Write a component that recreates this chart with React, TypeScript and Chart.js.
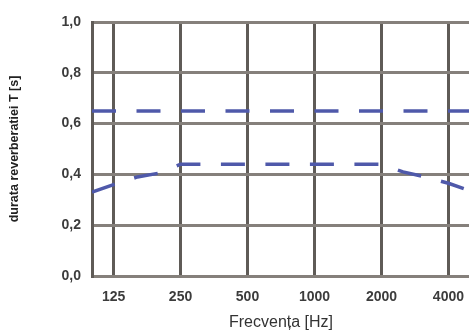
import React, { useEffect, useRef } from 'react';
import { Chart, registerables } from 'chart.js';

Chart.register(...registerables);

// Frequency axis (Hz)
const xTickValues = [125, 250, 500, 1000, 2000, 4000];
const xMin = 100;
const xMax = 5000;

// Upper limit (dashed)
const upperFreqs = [100, 5000];
const upperValues = [0.65, 0.65];

// Lower limit (dashed)
const lowerFreqs = [100, 125, 160, 200, 250, 500, 1000, 2000, 2500, 3150, 4000, 5000];
const lowerValues = [0.33, 0.36, 0.39, 0.405, 0.44, 0.44, 0.44, 0.44, 0.41, 0.39, 0.365, 0.335];

// Y axis
const yMin = 0;
const yMax = 1;
const yStep = 0.2;

const xTitle = 'Frecvența [Hz]';
const yTitle = 'durata reverberatiei T [s]';

const lineColor = '#4f59aa';
const hGridColor = '#85807b';
const vGridColor = '#5f5b57';
const tickColor = '#3c3c3c';

export default function App() {
  const ref = useRef<HTMLCanvasElement | null>(null);

  useEffect(() => {
    if (!ref.current) return;
    const chart = new Chart(ref.current, {
      type: 'line',
      data: {
        datasets: [
          {
            data: upperFreqs.map((f, i) => ({ x: f, y: upperValues[i] })),
            borderColor: lineColor,
            borderWidth: 3.5,
            borderDash: [24, 20.5],
            pointRadius: 0,
            fill: false,
            tension: 0,
          },
          {
            data: lowerFreqs.map((f, i) => ({ x: f, y: lowerValues[i] })),
            borderColor: lineColor,
            borderWidth: 3.5,
            borderDash: [24, 20.5],
            pointRadius: 0,
            fill: false,
            tension: 0,
          },
        ],
      },
      options: {
        responsive: false,
        animation: false,
        layout: { padding: { left: 0, right: 10, top: 22, bottom: 0 } },
        plugins: {
          legend: { display: false },
          tooltip: { enabled: false },
        },
        scales: {
          x: {
            type: 'logarithmic',
            min: xMin,
            max: xMax,
            afterBuildTicks: (scale: any) => {
              scale.ticks = xTickValues.map((v) => ({ value: v }));
            },
            afterFit: (scale: any) => {
              scale.height = 55;
            },
            ticks: {
              autoSkip: false,
              maxRotation: 0,
              minRotation: 0,
              padding: 13,
              color: tickColor,
              font: { family: 'Liberation Sans, Arial, sans-serif', size: 14, weight: 'bold' },
              callback: (v: any) => String(v),
            },
            grid: {
              color: vGridColor,
              lineWidth: 3,
              drawTicks: false,
            },
            border: { display: true, color: hGridColor, width: 3 },
            title: {
              display: true,
              text: xTitle,
              color: '#333333',
              font: { family: 'Liberation Sans, Arial, sans-serif', size: 16, lineHeight: 1 },
              padding: { top: 0, bottom: 0 },
            },
          },
          y: {
            type: 'linear',
            min: yMin,
            max: yMax,
            afterFit: (scale: any) => {
              scale.width = 92;
            },
            ticks: {
              stepSize: yStep,
              padding: 11,
              color: tickColor,
              font: { family: 'Liberation Sans, Arial, sans-serif', size: 14, weight: 'bold' },
              callback: (v: any) => Number(v).toFixed(1).replace('.', ','),
            },
            grid: {
              color: hGridColor,
              lineWidth: 3,
              drawTicks: false,
            },
            border: { display: true, color: vGridColor, width: 3 },
            title: {
              display: true,
              text: yTitle,
              color: '#222222',
              font: { family: 'Liberation Sans, Arial, sans-serif', size: 12.5, weight: 'bold', lineHeight: 1.2 },
              padding: { top: 7.5, bottom: 0 },
            },
          },
        },
      },
    });
    return () => chart.destroy();
  }, []);

  return (
    <div
      style={{
        position: 'fixed',
        left: 0,
        top: 0,
        width: 469,
        height: 331,
        overflow: 'hidden',
        background: '#ffffff',
      }}
    >
      <canvas ref={ref} width={480} height={331} style={{ width: 480, height: 331, display: 'block' }} />
    </div>
  );
}
